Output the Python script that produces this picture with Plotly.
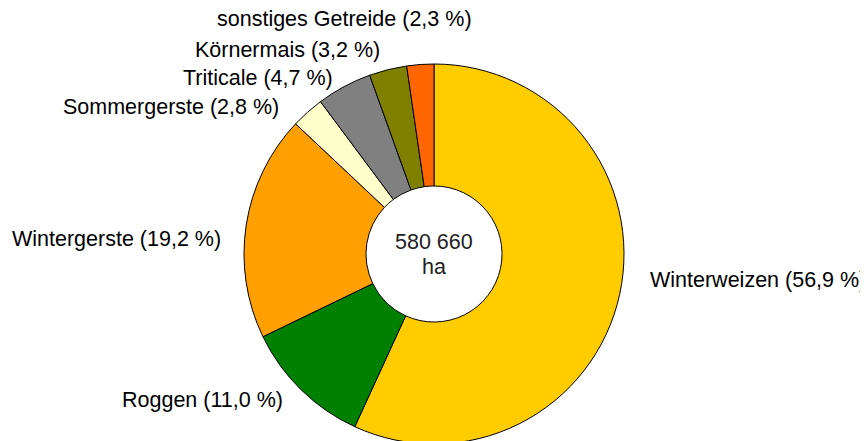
import plotly.graph_objects as go

categories = ["Winterweizen", "Roggen", "Wintergerste", "Sommergerste",
              "Triticale", "Körnermais", "sonstiges Getreide"]
shares = [56.9, 11.0, 19.2, 2.8, 4.7, 3.2, 2.3]
share_labels = ["56,9", "11,0", "19,2", "2,8", "4,7", "3,2", "2,3"]
colors = ["#FFCC00", "#008000", "#FF9F00", "#FFFFCC", "#808080", "#808000", "#FF6600"]
total_text = ["580 660", "ha"]

# figure is placed by the page with an 8px body margin
W, H = 868, 441
cx, cy, R = 426, 246, 190

fig = go.Figure(go.Pie(
    labels=categories,
    values=shares,
    sort=False,
    direction="clockwise",
    rotation=0,
    hole=0.358,
    marker=dict(colors=colors, line=dict(color="#000000", width=1)),
    textinfo="none",
    hoverinfo="label+percent",
    domain=dict(x=[(cx - R) / W, (cx + R) / W],
                y=[1 - (cy + R) / H, 1 - (cy - R) / H]),
    showlegend=False,
))

# label placement (left edge px, vertical middle px) in figure coordinates
label_pos = {
    "Winterweizen": (640, 272),
    "Roggen": (112, 392),
    "Wintergerste": (2, 231),
    "Sommergerste": (53, 99),
    "Triticale": (173, 70),
    "Körnermais": (185, 42),
    "sonstiges Getreide": (207, 11),
}

font = dict(family="Liberation Sans, Arial, sans-serif", size=21.5, color="#000000")
annotations = []
for cat, lab in zip(categories, share_labels):
    px, py = label_pos[cat]
    annotations.append(dict(
        x=px / W, y=1 - py / H, xref="paper", yref="paper",
        text=f"{cat} ({lab} %)", showarrow=False,
        xanchor="left", yanchor="middle", font=font,
    ))

for t, py in zip(total_text, [234, 258.5]):
    annotations.append(dict(
        x=cx / W, y=1 - py / H, xref="paper", yref="paper",
        text=t, showarrow=False, xanchor="center", yanchor="middle",
        font=dict(family="Liberation Sans, Arial, sans-serif", size=21.5, color="#222222"),
    ))

fig.update_layout(
    width=W, height=H,
    margin=dict(l=0, r=0, t=0, b=0),
    paper_bgcolor="#FFFFFF",
    plot_bgcolor="#FFFFFF",
    annotations=annotations,
)

fig.write_html("out.html")
